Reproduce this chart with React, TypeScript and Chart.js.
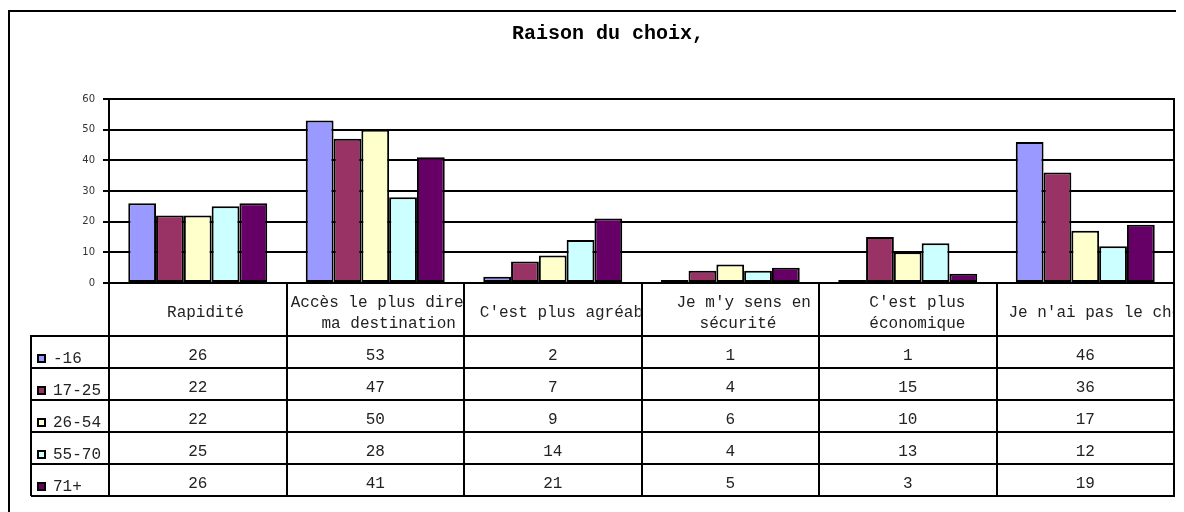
import React, { useEffect, useRef } from "react";
import { Chart, registerables } from "chart.js";

Chart.register(...registerables);

const title = "Raison du choix,";
const categories: string[][] = [
  ["Rapidité"],
  ["Accès le plus direct à", "ma destination"],
  ["C'est plus agréable"],
  ["Je m'y sens en", "sécurité"],
  ["C'est plus", "économique"],
  ["Je n'ai pas le choix"],
];
const seriesNames = ["-16", "17-25", "26-54", "55-70", "71+"];
const seriesColors = ["#9999FF", "#993366", "#FFFFCC", "#CCFFFF", "#660066"];
const valuesU16 = [26, 53, 2, 1, 1, 46];
const values17_25 = [22, 47, 7, 4, 15, 36];
const values26_54 = [22, 50, 9, 6, 10, 17];
const values55_70 = [25, 28, 14, 4, 13, 12];
const values71p = [26, 41, 21, 5, 3, 19];
const seriesValues = [valuesU16, values17_25, values26_54, values55_70, values71p];
const yTicks = [0, 10, 20, 30, 40, 50, 60];

const W = 1176;
const H = 504;
const HEADER_H = 53;
const ROW_H = 32;
const LEGEND_LEFT = 23;
const MONO = "'Liberation Mono', 'Courier New', monospace";

const tablePlugin = {
  id: "dataTable",
  afterDraw(chart: any) {
    const { ctx, chartArea: ca } = chart;
    const xs = chart.scales.x;
    const n = categories.length;
    const colW = (ca.right - ca.left) / n;
    const top = ca.bottom;
    const headerBottom = top + HEADER_H;
    const tableBottom = headerBottom + ROW_H * seriesNames.length;
    ctx.save();

    // outer frame
    ctx.fillStyle = "#000";
    ctx.fillRect(0, 2, W, 2);
    ctx.fillRect(0, 2, 2, H);

    // title
    ctx.font = `bold 20px ${MONO}`;
    ctx.textAlign = "center";
    ctx.textBaseline = "alphabetic";
    ctx.fillStyle = "#000";
    ctx.fillText(title, 600, 31);

    // header labels
    ctx.font = `16px ${MONO}`;
    ctx.fillStyle = "#222";
    for (let i = 0; i < n; i++) {
      const c = xs.getPixelForValue(i);
      const left = c - colW / 2;
      ctx.save();
      ctx.beginPath();
      ctx.rect(left + 1, top + 1, colW - 2, HEADER_H - 2);
      ctx.clip();
      const lines = categories[i];
      const baselines = lines.length === 1 ? [top + 34] : [top + 24, top + 44.5];
      ctx.textAlign = "left";
      lines.forEach((ln, k) => {
        const w = ctx.measureText(ln).width;
        ctx.fillText(ln, c - 0.4 * w, baselines[k]);
      });
      ctx.restore();
    }

    // values
    ctx.textAlign = "center";
    for (let s = 0; s < seriesNames.length; s++) {
      const rowTop = headerBottom + s * ROW_H;
      for (let i = 0; i < n; i++) {
        const c = xs.getPixelForValue(i);
        ctx.fillText(String(seriesValues[s][i]), c, rowTop + 24);
      }
      // legend
      ctx.fillStyle = "#000";
      ctx.fillRect(LEGEND_LEFT + 6, rowTop + 18, 9, 9);
      ctx.fillStyle = seriesColors[s];
      ctx.fillRect(LEGEND_LEFT + 8, rowTop + 20, 5, 5);
      ctx.fillStyle = "#222";
      ctx.textAlign = "left";
      ctx.fillText(seriesNames[s], LEGEND_LEFT + 22, rowTop + 27);
      ctx.textAlign = "center";
    }

    // grid lines of table
    ctx.fillStyle = "#000";
    for (let i = 0; i <= n; i++) {
      const x = ca.left + i * colW;
      ctx.fillRect(Math.round(x) - 1, top, 2, tableBottom - top + 1);
    }
    ctx.fillRect(ca.right - 1, ca.top - 1, 2, top - ca.top + 1);
    for (let r = 0; r <= seriesNames.length; r++) {
      const y = headerBottom + r * ROW_H;
      ctx.fillRect(LEGEND_LEFT, y - 1, ca.right - LEGEND_LEFT, 2);
    }
    ctx.fillRect(LEGEND_LEFT - 1, headerBottom - 1, 2, tableBottom - headerBottom + 1);
    ctx.restore();
  },
};

export default function App() {
  const ref = useRef<HTMLCanvasElement | null>(null);
  useEffect(() => {
    if (!ref.current) return;
    const chart = new Chart(ref.current, {
      type: "bar",
      data: {
        labels: categories.map((c) => c.join(" ")),
        datasets: seriesNames.map((name, s) => ({
          label: name,
          data: seriesValues[s],
          backgroundColor: seriesColors[s],
          borderColor: "#000",
          borderWidth: 2,
          borderSkipped: false,
          categoryPercentage: 0.783,
          barPercentage: 1,
        })),
      },
      options: {
        animation: false,
        responsive: false,
        devicePixelRatio: 1,
        layout: { padding: { left: 0, right: 10, top: 91, bottom: 229 } },
        plugins: { legend: { display: false }, tooltip: { enabled: false }, title: { display: false } },
        scales: {
          x: { display: false },
          y: {
            min: 0,
            max: 60,
            afterBuildTicks: (scale: any) => {
              scale.ticks = yTicks.map((v) => ({ value: v }));
            },
            afterFit: (scale: any) => {
              scale.width = 101;
            },
            ticks: {
              font: { family: "'DejaVu Sans', Verdana, sans-serif", size: 10 },
              color: "#333",
              padding: 8,
            },
            grid: { color: "#000", lineWidth: 2, tickLength: 6, drawTicks: true },
            border: { display: true, color: "#000", width: 2 },
          },
        },
      },
      plugins: [tablePlugin],
    });
    return () => chart.destroy();
  }, []);
  return <canvas ref={ref} width={W} height={H} style={{ display: "block", width: W, height: H }} />;
}
